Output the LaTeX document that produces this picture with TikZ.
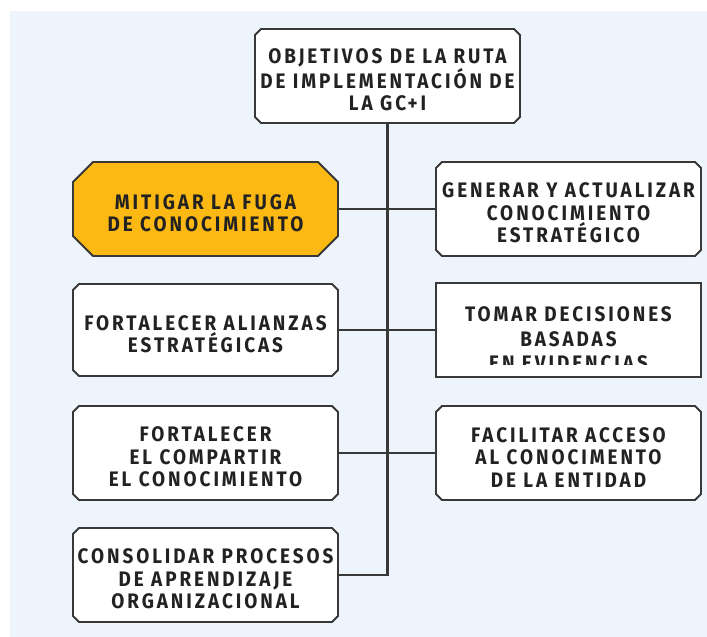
\documentclass[tikz,border=0pt]{standalone}
\usepackage{fontspec}
\newfontfamily\dinfont[FakeStretch=0.9,LetterSpace=14]{Fira Sans}
\usetikzlibrary{shapes.misc}
\definecolor{bgblue}{HTML}{EDF4FC}
\definecolor{mango}{HTML}{FDB913}
\definecolor{edgecol}{HTML}{383838}
\definecolor{ink}{HTML}{222222}
\newcommand\topstrut{\rule{0pt}{23pt}}
\begin{document}
\begin{tikzpicture}[x=1pt,y=-1pt,
  txt/.style={text=ink, align=center, inner sep=0pt,
    font=\dinfont\bfseries\fontsize{21}{22.5}\selectfont},
  box/.style={txt, chamfered rectangle, chamfered rectangle xsep=3pt,
    chamfered rectangle ysep=3pt, draw=edgecol, line width=1.9pt, fill=white,
    minimum width=265pt, minimum height=94pt},
  hot/.style={box, fill=mango, chamfered rectangle xsep=10pt,
    chamfered rectangle ysep=10pt},
  link/.style={draw=edgecol, line width=2.2pt}]
\useasboundingbox (0,0) rectangle (707,637);
\fill[bgblue] (10,11) rectangle (707,637);

\node[box] (top) at (387.5,76) {\topstrut OBJETIVOS DE LA RUTA\\DE IMPLEMENTACIÓN DE\\LA GC+I};
\node[hot] (L1) at (205.5,209) {\topstrut MITIGAR LA FUGA\\DE CONOCIMIENTO};
\node[box] (R1) at (568.5,209) {\topstrut GENERAR Y ACTUALIZAR\\CONOCIMIENTO\\ESTRATÉGICO};
\node[box, minimum height=92pt] (L2) at (205.5,330) {\topstrut FORTALECER ALIANZAS\\ESTRATÉGICAS};
\node[box] (R2) at (568.5,330) {};
\node[box] (L3) at (205.5,453) {\topstrut FORTALECER\\EL COMPARTIR\\EL CONOCIMIENTO};
\node[box] (R3) at (568.5,453) {\topstrut FACILITAR ACCESO\\AL CONOCIMENTO\\DE LA ENTIDAD};
\node[box] (L4) at (205.5,575) {\topstrut CONSOLIDAR PROCESOS\\DE APRENDIZAJE\\ORGANIZACIONAL};

\begin{scope}
  \clip (436,284) rectangle (701,364);
  \node[txt, font=\dinfont\bfseries\fontsize{21}{24.5}\selectfont] (R2t) at (568.5,339)
    {TOMAR DECISIONES\\BASADAS\\EN EVIDENCIAS};
\end{scope}

\draw[link] (top.south) |- (L4.east);
\draw[link] (L1.east) -- (R1.west);
\draw[link] (L2.east) -- (R2.west);
\draw[link] (L3.east) -- (R3.west);
\end{tikzpicture}
\end{document}
